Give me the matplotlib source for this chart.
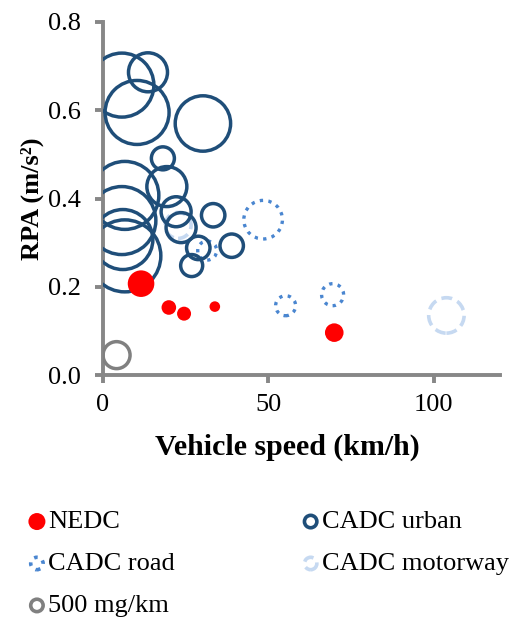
import numpy as np
import matplotlib
matplotlib.use("Agg")
import matplotlib.pyplot as plt

plt.rcParams['font.family'] = ['Liberation Serif', 'DejaVu Serif']

# ---- data: (speed km/h, RPA m/s2, bubble size mg/km) ----
nedc_speed = [11.5, 19.9, 24.5, 33.8, 69.9]
nedc_rpa = [0.207, 0.153, 0.139, 0.155, 0.096]
nedc_size = [485, 146, 134, 77, 237]

urban_speed = [5.7, 13.6, 10.3, 30.2, 18.1, 6.6, 19.3, 22.1, 5.7, 6.0, 6.6, 33.3, 38.9, 23.6, 28.8, 26.8]
urban_rpa = [0.657, 0.686, 0.595, 0.570, 0.491, 0.407, 0.427, 0.370, 0.350, 0.307, 0.270, 0.362, 0.293, 0.334, 0.288, 0.248]
urban_size = [2809, 1043, 2809, 2105, 363, 3171, 1097, 617, 3171, 2469, 3556, 376, 376, 617, 376, 332]

road_speed = [48.4, 31.5, 55.2, 69.4]
road_rpa = [0.352, 0.282, 0.157, 0.182]
road_size = [1022, 248, 274, 332]

motorway_speed = [103.8, 22.7]
motorway_rpa = [0.135, 0.339]
motorway_size = [860, 464]

ref_speed = [4.1]
ref_rpa = [0.045]
ref_size = [500]

x_ticks = [0, 50, 100]
y_ticks = [0.0, 0.2, 0.4, 0.6, 0.8]

# ---- style ----
DPI = 100
R500 = 13.5  # radius in px of a 500 mg/km bubble


def s_of(v):
    v = np.asarray(v, dtype=float)
    r_px = R500 * np.sqrt(v / 500.0)
    return (2 * r_px * 72.0 / DPI) ** 2


c_urban = '#1F4E79'
c_road = '#4A86D0'
c_motor = '#C6D9F1'
c_red = '#FF0000'
c_gray = '#808080'
c_axis = '#878787'

fig = plt.figure(figsize=(5.14, 6.22), dpi=DPI)
ax = fig.add_axes([103 / 514, 1 - 375 / 622, (500 - 103) / 514, (375 - 22) / 622])

ax.scatter(motorway_speed, motorway_rpa, s=s_of(motorway_size), facecolors='none',
           edgecolors=c_motor, linewidths=2.6, linestyles=(0, (3, 1.6)), zorder=2)
ax.scatter(road_speed, road_rpa, s=s_of(road_size), facecolors='none',
           edgecolors=c_road, linewidths=2.4, linestyles=(0, (1, 1.6)), zorder=2)
ax.scatter(urban_speed, urban_rpa, s=s_of(urban_size), facecolors='none',
           edgecolors=c_urban, linewidths=2.5, zorder=3)
ax.scatter(nedc_speed, nedc_rpa, s=s_of(nedc_size), facecolors=c_red,
           edgecolors='none', zorder=4)
ax.scatter(ref_speed, ref_rpa, s=s_of(ref_size), facecolors='none',
           edgecolors=c_gray, linewidths=2.5, zorder=4)

ax.set_xlim(0, 120)
ax.set_ylim(0, 0.8)
ax.set_xticks(x_ticks)
ax.set_yticks(y_ticks)
ax.set_xticklabels([str(t) for t in x_ticks])
ax.set_yticklabels([f"{t:.1f}" for t in y_ticks])

for side in ['top', 'right']:
    ax.spines[side].set_visible(False)
for side in ['left', 'bottom']:
    ax.spines[side].set_color(c_axis)
    ax.spines[side].set_linewidth(2.8)
ax.tick_params(axis='both', which='major', color=c_axis, width=2.8, length=5.5,
               labelsize=19, direction='out')
ax.tick_params(axis='x', pad=8)
ax.tick_params(axis='y', pad=10.5)

ax.set_xlabel('Vehicle speed (km/h)', fontsize=21.5, fontweight='bold', labelpad=13)
ax.xaxis.label.set_x((287 - 103) / 397)
ax.set_ylabel('RPA (m/s²)', fontsize=19, fontweight='bold', labelpad=3)

# legend proxies
h_nedc = ax.scatter([], [], s=150, facecolors=c_red, edgecolors='none', label='NEDC')
h_urban = ax.scatter([], [], s=80, facecolors='none', edgecolors=c_urban, linewidths=2.6, label='CADC urban')
h_road = ax.scatter([], [], s=80, facecolors='none', edgecolors=c_road, linewidths=2.6,
                    linestyles=(0, (1, 1.6)), label='CADC road')
h_motor = ax.scatter([], [], s=80, facecolors='none', edgecolors=c_motor, linewidths=2.6,
                     linestyles=(0, (3, 1.6)), label='CADC motorway')
h_ref = ax.scatter([], [], s=80, facecolors='none', edgecolors=c_gray, linewidths=2.6, label='500 mg/km')

hs = [h_nedc, h_road, h_ref, h_urban, h_motor]
leg = fig.legend(handles=hs, loc='upper left', bbox_to_anchor=(29 / 514, 1 - 510 / 622),
                 ncol=2, frameon=False, fontsize=19, handlelength=0.6, handletextpad=0.12,
                 columnspacing=4.85, labelspacing=0.70, borderaxespad=0, borderpad=0)

fig.savefig('out.png', dpi=DPI)
